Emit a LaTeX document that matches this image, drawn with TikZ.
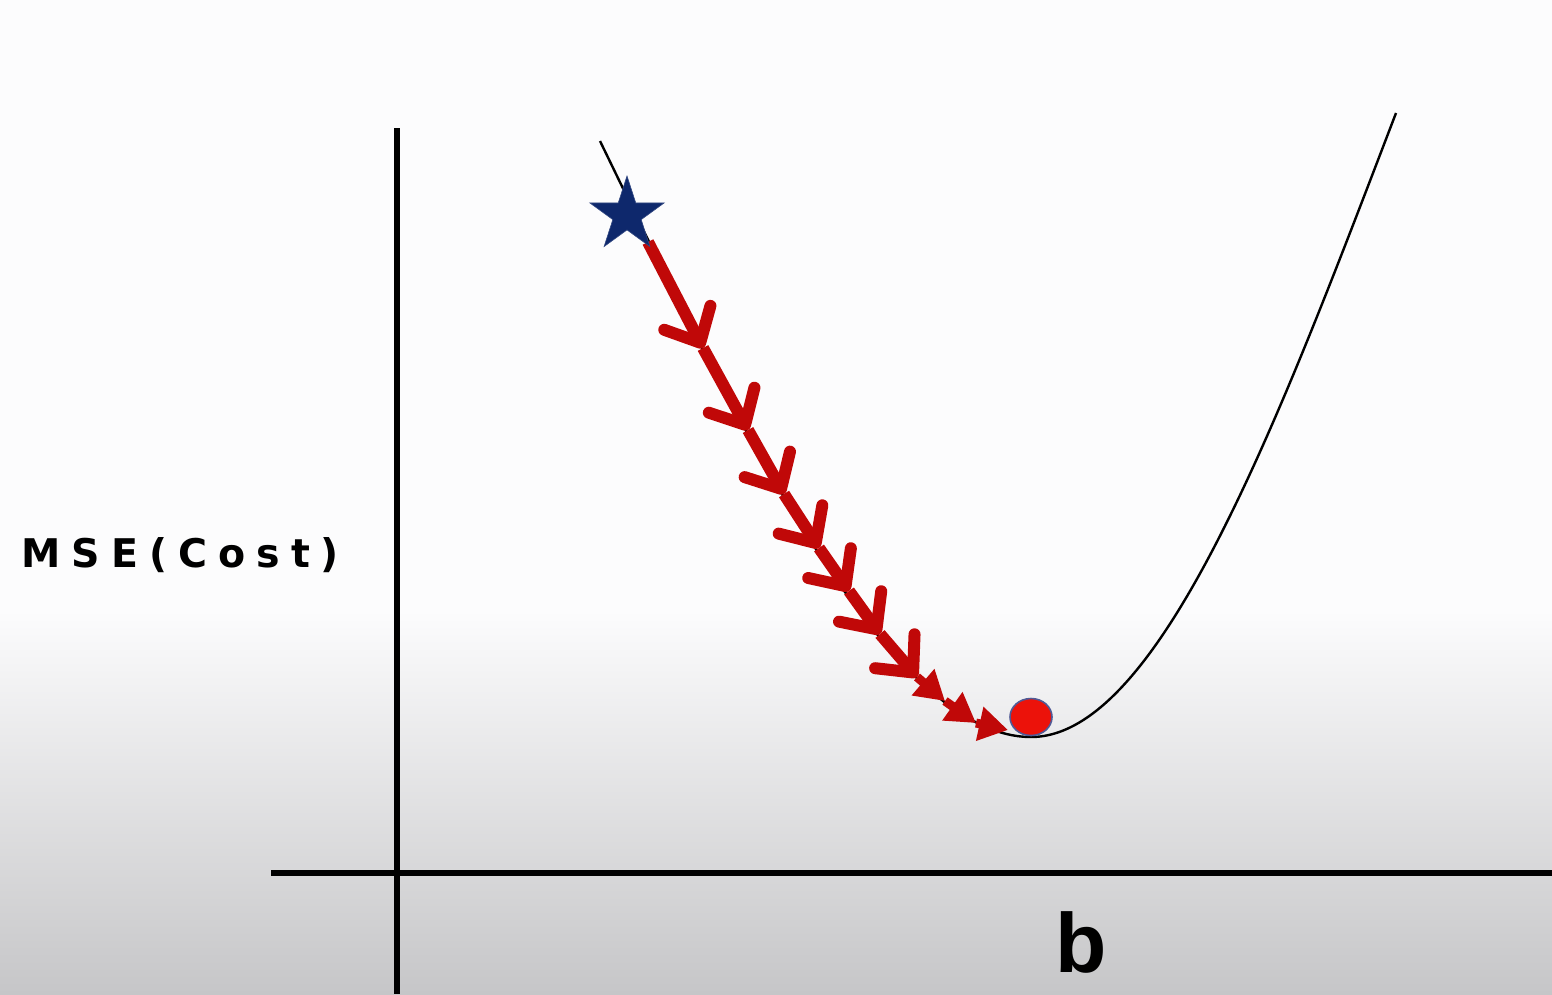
\documentclass[tikz,border=0pt]{standalone}
\usepackage{fontspec}
\usetikzlibrary{arrows.meta,shapes.geometric}
\newfontfamily\ylabfont[LetterSpace=28]{DejaVu Sans}
\newfontfamily\bsans{Liberation Sans}
\definecolor{stepred}{RGB}{192,8,8}
\definecolor{navy}{RGB}{14,40,108}
\definecolor{dotred}{RGB}{236,18,10}
\definecolor{dotedge}{RGB}{80,90,150}
\definecolor{bgtop}{RGB}{252,252,253}
\definecolor{bgbot}{RGB}{198,198,200}
\tikzset{
  axisline/.style={line width=6.5pt, black},
  curveline/.style={line width=2.4pt, black},
  vstep/.style={line width=12pt, stepred, -{Straight Barb[length=28pt, width=52pt, round]}},
  tstep/.style={line width=9pt, stepred, -{Triangle[length=29pt, width=33pt]}},
}
\begin{document}
\begin{tikzpicture}[x=1pt,y=-1pt]
\useasboundingbox (0,0) rectangle (1552,994);
\fill[bgtop] (0,0) rectangle (1552,610);
\shade[top color=bgtop, bottom color=bgbot] (0,610) rectangle (1552,994);
% axes
\coordinate (ytop) at (397,128);
\coordinate (ybot) at (397,994);
\coordinate (xl) at (271,873);
\coordinate (xr) at (1552,873);
\draw[axisline] (ytop) -- (ybot);
\draw[axisline] (xl) -- (xr);
% curve
\coordinate (cstart) at (600,141);
\coordinate (cmin) at (1031,737);
\coordinate (cend) at (1396,113);
\draw[curveline] (cstart) .. controls (731,411) and (886,737) .. (cmin)
  .. controls (1161,737) and (1281,413) .. (cend);
% steps
\coordinate (p0) at (648,242);
\coordinate (p1) at (703,348);
\coordinate (p2) at (748,430);
\coordinate (p3) at (784,494);
\coordinate (p4) at (819,548);
\coordinate (p5) at (849,591);
\coordinate (p6) at (880,634);
\coordinate (p7) at (917,677);
\coordinate (p8) at (945,701);
\coordinate (p9) at (976,723);
\coordinate (p10) at (1008,730);
\draw[vstep] (p0) -- (p1);
\draw[vstep] (p1) -- (p2);
\draw[vstep] (p2) -- (p3);
\draw[vstep] (p3) -- (p4);
\draw[vstep] (p4) -- (p5);
\draw[vstep] (p5) -- (p6);
\draw[vstep] (p6) -- (p7);
\draw[tstep] (p7) -- (p8);
\draw[tstep] (p8) -- (p9);
\draw[tstep] (p9) -- (p10);
% start star and minimum dot
\node[star, star points=5, star point ratio=2.618, minimum size=78pt, inner sep=0pt, fill=navy, draw=navy!85!white, line width=0.6pt] (start) at (627,215) {};
\node[ellipse, minimum width=42pt, minimum height=37pt, inner sep=0pt, fill=dotred, draw=dotedge, line width=1.6pt] (min) at (1031,717) {};
% labels
\node[anchor=west, inner sep=0pt] (ylab) at (21,555) {\ylabfont\bfseries\fontsize{39.5}{41}\selectfont MSE(Cost)};
\node[inner sep=0pt] (xlab) at (1081,942) {\bsans\bfseries\fontsize{84}{90}\selectfont b};
\end{tikzpicture}
\end{document}
